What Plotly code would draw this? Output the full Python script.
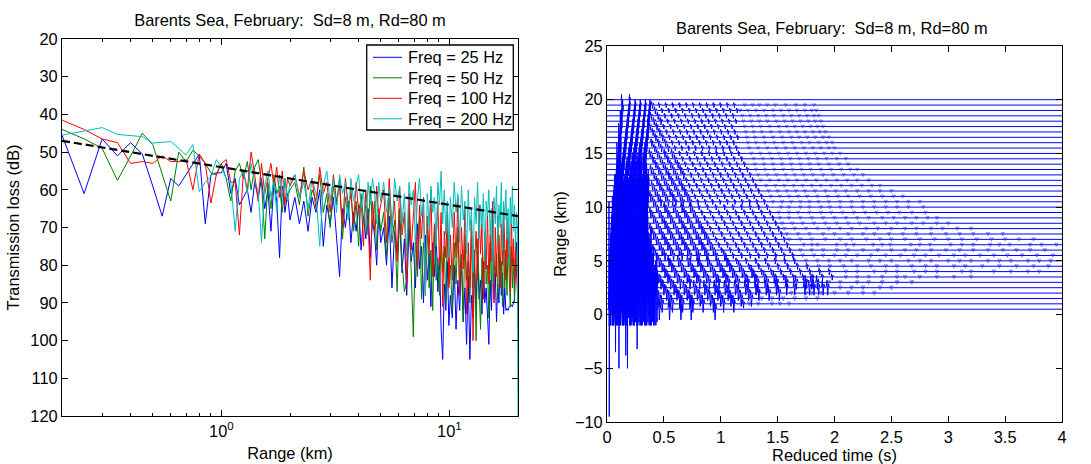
import plotly.graph_objects as go

# ---------------- Left panel data (transmission loss vs range) ----------------
range_km = [
    0.2, 0.25, 0.3, 0.35, 0.4, 0.45, 0.5, 0.55, 0.6, 0.65, 0.7, 0.75, 0.8, 0.85, 0.9, 0.95,
    1.0, 1.05, 1.1, 1.15, 1.2, 1.25, 1.3, 1.35, 1.4, 1.45, 1.5, 1.55, 1.6, 1.65, 1.7, 1.75,
    1.8, 1.85, 1.9, 1.95, 2.0,
    2.1, 2.2, 2.3, 2.4, 2.5, 2.6, 2.7, 2.8, 2.9, 3.0, 3.1, 3.2, 3.3, 3.4, 3.5, 3.6, 3.7, 3.8,
    3.9, 4.0, 4.1, 4.2, 4.3, 4.4, 4.5, 4.6, 4.7, 4.8, 4.9, 5.0,
    5.15, 5.3, 5.45, 5.6, 5.75, 5.9, 6.05, 6.2, 6.35, 6.5, 6.65, 6.8, 6.95, 7.1, 7.25, 7.4,
    7.55, 7.7, 7.85, 8.0, 8.15, 8.3, 8.45, 8.6, 8.75, 8.9, 9.05, 9.2, 9.35, 9.5, 9.65, 9.8, 9.95,
    10.1, 10.3, 10.5, 10.7, 10.9, 11.1, 11.3, 11.5, 11.7, 11.9, 12.1, 12.3, 12.5, 12.7, 12.9,
    13.1, 13.3, 13.5, 13.7, 13.9, 14.1, 14.3, 14.5, 14.7, 14.9, 15.1, 15.3, 15.5, 15.7, 15.9,
    16.1, 16.3, 16.5, 16.7, 16.9, 17.1, 17.3, 17.5, 17.7, 17.9, 18.1, 18.3, 18.5, 18.7, 18.9,
    19.1, 19.3, 19.5, 19.7, 19.9, 20.0,
]

tl_25hz = [
    45.5, 61, 46.5, 51, 47.5, 50.5, 59, 67, 57, 59, 56, 53, 50.5, 69, 56, 55.5, 55.5, 53, 61, 57,
    64, 62, 60, 66, 58, 62, 57, 65, 60, 71, 58, 63, 78, 59, 66, 61, 68,
    62, 69, 63, 71, 62, 66, 60, 75, 64, 69, 62, 72, 83, 65, 70, 63, 74, 66, 71, 64,
    76, 67, 73, 65, 78, 68, 72, 80, 66, 74,
    70, 80, 67, 86, 71, 77, 68, 82, 73, 88, 70, 79, 74, 86, 69, 81, 75, 90, 72, 84,
    77, 91, 74, 83, 71, 87, 78, 97, 105, 85, 92, 79, 96,
    88, 94, 80, 97, 84, 92, 78, 95, 86, 101, 83, 105, 88, 94, 80, 91, 76, 89, 84, 93,
    79, 90, 86, 96, 101, 84, 92, 77, 89, 82, 95, 85, 90, 78, 88, 82, 93, 86, 92, 91.5,
    92, 91, 91, 90.5, 91, 90, 89, 80, 74, 78, 82,
]

tl_50hz = [
    44, 46.5, 49, 57.5, 51, 45, 48, 56, 63, 50, 52.5, 49.5, 51, 53, 55.5, 56, 53, 57, 63, 55,
    53, 57, 52.5, 60, 54, 52, 58, 73, 58, 65, 56, 61, 59, 66, 57, 62, 60,
    58, 64, 54, 67, 60, 63, 56, 66, 61, 70, 59, 64, 57, 73, 62, 67, 60, 71, 63, 75,
    61, 68, 64, 72, 59, 70, 63, 76, 65, 71,
    66, 78, 62, 74, 68, 87, 65, 79, 87, 84, 64, 80, 99, 72, 83, 67, 89, 74, 80, 69,
    86, 76, 92, 70, 84, 78, 88, 73, 82, 75, 90, 71, 85,
    80, 92, 74, 85, 70, 88, 77, 95, 72, 84, 79, 90, 69, 86, 76, 100, 73, 83, 97, 78,
    88, 71, 85, 80, 94, 74, 87, 68, 85, 82, 77, 89, 72, 84, 79, 91, 70, 86, 76, 88,
    73, 83, 91, 75, 86, 78, 90, 72, 83, 77, 80,
]

tl_100hz = [
    41.5, 44, 46.5, 47.5, 53, 52.5, 53, 51, 52.5, 52.5, 52, 60, 50.5, 53, 63.5, 56, 53, 52, 58, 58,
    72, 55, 60, 50, 56, 63, 53, 61, 57, 53, 59, 54, 62, 55, 64, 57, 59,
    56, 62, 55, 60, 57, 65, 54, 61, 58, 66, 56, 63, 59, 70, 57, 64, 61, 69, 58, 66,
    62, 75, 60, 68, 84, 63, 71, 59, 67, 64,
    60, 74, 57, 70, 63, 79, 59, 72, 66, 85, 61, 76, 68, 58, 81, 64, 73, 62, 88, 67,
    77, 60, 83, 69, 74, 63, 80, 66, 91, 71, 78, 64, 86,
    72, 84, 66, 78, 62, 88, 70, 81, 65, 93, 74, 86, 68, 100, 79, 71, 84, 64, 77, 69,
    89, 73, 81, 66, 85, 72, 79, 63, 90, 70, 83, 67, 76, 86, 69, 80, 65, 74, 84, 68,
    78, 71, 87, 66, 80, 73, 85, 76, 82, 88, 97,
]

tl_200hz = [
    45.5, 44.5, 43.5, 45.3, 45.6, 45.9, 47.6, 47.4, 47.2, 49, 50.8, 48, 60.5, 58, 56.5, 52, 54, 57, 58, 71,
    57, 55, 61, 53, 58, 60, 74, 59, 55, 62, 58, 66, 56, 61, 57, 63, 58,
    56, 62, 58, 65, 57, 61, 75, 59, 55, 63, 57, 66, 56, 61, 58, 68, 57, 63, 59, 56,
    65, 60, 71, 58, 64, 57, 61, 69, 58, 63,
    58, 66, 60, 72, 57, 63, 59, 69, 61, 78, 58, 64, 60, 74, 62, 57, 67, 63, 88, 61,
    70, 59, 66, 62, 75, 58, 64, 55, 69, 60, 72, 63, 78,
    62, 70, 58, 66, 61, 74, 59, 68, 63, 77, 60, 71, 65, 82, 62, 69, 58, 73, 64, 70,
    61, 79, 63, 67, 60, 72, 65, 85, 62, 69, 59, 74, 64, 70, 58, 76, 63, 68, 60, 73,
    65, 80, 62, 69, 59, 71, 64, 75, 66, 70, 125,
]

# reference (dashed) trend line end points
trend_range = [0.2, 20.0]
trend_tl = [47.0, 67.0]

series_names = ["Freq = 25 Hz", "Freq = 50 Hz", "Freq = 100 Hz", "Freq = 200 Hz"]
series_colors = ["#0000ff", "#008000", "#ff0000", "#00bfbf"]

# ---------------- Right panel data (stacked time series) ----------------
trace_range = [0.5, 1.0, 1.5, 2.0, 2.5, 3.0, 3.5, 4.0, 4.5, 5.0, 5.5, 6.0, 6.5, 7.0, 7.5, 8.0,
               8.5, 9.0, 9.5, 10.0, 10.5, 11.0, 11.5, 12.0, 12.5, 13.0, 13.5, 14.0, 14.5, 15.0,
               15.5, 16.0, 16.5, 17.0, 17.5, 18.0, 18.5, 19.0, 19.5, 20.0]

# early, strong arrivals
spike_t = [
    [0.02, 0.045, 0.075, 0.105, 0.135, 0.165, 0.18, 0.21, 0.24, 0.265, 0.3, 0.34, 0.38],
    [0.025, 0.05, 0.08, 0.11, 0.14, 0.17, 0.2, 0.23, 0.26, 0.29, 0.33, 0.37, 0.41],
    [0.025, 0.055, 0.085, 0.115, 0.145, 0.175, 0.205, 0.235, 0.27, 0.3, 0.34, 0.38, 0.42],
    [0.03, 0.06, 0.09, 0.12, 0.15, 0.18, 0.21, 0.24, 0.27, 0.31, 0.35, 0.39, 0.43],
    [0.03, 0.06, 0.09, 0.12, 0.15, 0.18, 0.22, 0.25, 0.28, 0.32, 0.36, 0.4, 0.44],
    [0.03, 0.06, 0.09, 0.12, 0.16, 0.19, 0.22, 0.26, 0.29, 0.33, 0.37, 0.41],
    [0.035, 0.065, 0.095, 0.13, 0.16, 0.19, 0.23, 0.26, 0.3, 0.34, 0.38],
    [0.035, 0.065, 0.1, 0.13, 0.165, 0.2, 0.23, 0.27, 0.3, 0.34, 0.38],
    [0.04, 0.07, 0.1, 0.135, 0.17, 0.2, 0.24, 0.27, 0.31, 0.35, 0.39],
    [0.04, 0.07, 0.105, 0.14, 0.17, 0.21, 0.24, 0.28, 0.31, 0.35],
    [0.045, 0.075, 0.11, 0.14, 0.18, 0.21, 0.25, 0.28, 0.32, 0.36],
    [0.045, 0.08, 0.11, 0.145, 0.18, 0.22, 0.25, 0.29, 0.32, 0.36],
    [0.05, 0.08, 0.115, 0.15, 0.185, 0.22, 0.26, 0.29, 0.33],
    [0.05, 0.085, 0.12, 0.155, 0.19, 0.225, 0.26, 0.3, 0.34],
    [0.055, 0.09, 0.125, 0.16, 0.195, 0.23, 0.27, 0.31, 0.35],
    [0.055, 0.09, 0.13, 0.165, 0.2, 0.24, 0.28, 0.32],
    [0.06, 0.095, 0.13, 0.17, 0.21, 0.25, 0.29, 0.33],
    [0.06, 0.1, 0.135, 0.175, 0.215, 0.255, 0.295, 0.335],
    [0.065, 0.1, 0.14, 0.18, 0.22, 0.26, 0.3, 0.34],
    [0.07, 0.105, 0.145, 0.185, 0.225, 0.265, 0.305, 0.345],
    [0.07, 0.11, 0.15, 0.19, 0.23, 0.27, 0.31, 0.35],
    [0.075, 0.115, 0.155, 0.195, 0.235, 0.275, 0.315, 0.355],
    [0.08, 0.12, 0.16, 0.2, 0.24, 0.28, 0.32, 0.36],
    [0.085, 0.125, 0.165, 0.205, 0.245, 0.285, 0.325, 0.365],
    [0.09, 0.13, 0.17, 0.21, 0.25, 0.29, 0.33],
    [0.095, 0.135, 0.175, 0.215, 0.255, 0.295, 0.335],
    [0.1, 0.14, 0.18, 0.225, 0.265, 0.305, 0.345],
    [0.1, 0.145, 0.19, 0.23, 0.275, 0.32],
    [0.105, 0.15, 0.195, 0.24, 0.285, 0.33],
    [0.11, 0.155, 0.2, 0.245, 0.29, 0.335],
    [0.11, 0.16, 0.21, 0.255, 0.3, 0.345],
    [0.115, 0.165, 0.215, 0.26, 0.305, 0.35],
    [0.12, 0.17, 0.22, 0.265, 0.31, 0.355],
    [0.12, 0.175, 0.225, 0.27, 0.315, 0.36],
    [0.125, 0.18, 0.23, 0.275, 0.32, 0.36],
    [0.13, 0.185, 0.235, 0.28, 0.325, 0.365],
    [0.13, 0.19, 0.24, 0.285, 0.33, 0.37],
    [0.135, 0.195, 0.245, 0.29, 0.335, 0.375],
    [0.14, 0.2, 0.25, 0.295, 0.34, 0.38],
    [0.13, 0.2],
]
spike_amp = [1.5, 2.0, 2.5, 3.0, 3.2, 3.3, 3.4, 3.5, 3.5, 3.5,
             3.4, 3.3, 3.2, 3.0, 2.9, 2.8, 2.7, 2.6, 2.5, 2.4,
             2.0, 1.8, 1.6, 1.5, 1.4, 1.3, 1.2, 1.1, 1.0, 0.95,
             0.9, 0.85, 0.8, 0.75, 0.7, 0.65, 0.6, 0.55, 0.5, 0.5]

# later multipath arrivals (they line up along slanting branches)
blob_t = [
    [0.46, 0.55, 0.65, 0.74, 0.95],
    [0.485, 0.575, 0.665, 0.755, 0.845, 0.935, 1.025, 1.115, 1.2],
    [0.46, 0.55, 0.64, 0.73, 0.82, 0.91, 1.0, 1.09, 1.18, 1.27],
    [0.525, 0.615, 0.705, 0.795, 0.885, 0.975, 1.065, 1.155, 1.245, 1.335, 1.425, 1.515],
    [0.5, 0.59, 0.68, 0.77, 0.86, 0.95, 1.04, 1.13, 1.22, 1.31, 1.4, 1.49, 1.58, 1.65, 1.74, 1.78, 1.82, 1.86, 1.9, 1.94],
    [0.475, 0.56, 0.645, 0.73, 0.815, 0.9, 0.985, 1.07, 1.155, 1.24, 1.325, 1.41, 1.495, 1.58, 1.665, 1.75, 1.8, 1.85],
    [0.45, 0.535, 0.62, 0.705, 0.79, 0.875, 0.96, 1.045, 1.13, 1.215, 1.3, 1.385, 1.47, 1.555, 1.64, 1.725, 1.81, 1.895, 1.98],
    [0.425, 0.51, 0.595, 0.68, 0.765, 0.85, 0.935, 1.02, 1.105, 1.19, 1.275, 1.36, 1.445, 1.53, 1.615, 1.7, 1.785, 1.87, 1.955],
    [0.485, 0.57, 0.655, 0.74, 0.825, 0.91, 0.995, 1.08, 1.165, 1.25, 1.335, 1.42, 1.505, 1.59, 1.675, 1.76],
    [0.46, 0.545, 0.63, 0.715, 0.8, 0.885, 0.97, 1.055, 1.14, 1.225, 1.31, 1.395, 1.48, 1.565, 1.65],
    [0.435, 0.51, 0.585, 0.66, 0.735, 0.81, 0.885, 0.96, 1.035, 1.11, 1.185, 1.26, 1.335, 1.41, 1.485, 1.56, 1.635],
    [0.41, 0.485, 0.56, 0.635, 0.71, 0.785, 0.86, 0.935, 1.01, 1.085, 1.16, 1.235, 1.31, 1.385, 1.46, 1.535, 1.61],
    [0.46, 0.535, 0.61, 0.685, 0.76, 0.835, 0.91, 0.985, 1.06, 1.135, 1.21, 1.285, 1.36, 1.435, 1.51, 1.585],
    [0.435, 0.51, 0.585, 0.66, 0.735, 0.81, 0.885, 0.96, 1.035, 1.11, 1.185, 1.26, 1.335, 1.41, 1.485, 1.56],
    [0.41, 0.485, 0.56, 0.635, 0.71, 0.785, 0.86, 0.935, 1.01, 1.085, 1.16, 1.235, 1.31, 1.385, 1.46, 1.535],
    [0.385, 0.46, 0.535, 0.61, 0.685, 0.76, 0.835, 0.91, 0.985, 1.06, 1.135, 1.21, 1.285, 1.36, 1.435, 1.51],
    [0.435, 0.51, 0.585, 0.66, 0.735, 0.81, 0.885, 0.96, 1.035, 1.11, 1.185, 1.26, 1.335, 1.41, 1.485],
    [0.41, 0.485, 0.56, 0.635, 0.71, 0.785, 0.86, 0.935, 1.01, 1.085, 1.16, 1.235, 1.31, 1.385, 1.46],
    [0.385, 0.46, 0.535, 0.61, 0.685, 0.76, 0.835, 0.91, 0.985, 1.06, 1.135, 1.21, 1.285, 1.36, 1.435],
    [0.435, 0.51, 0.585, 0.66, 0.735, 0.81, 0.885, 0.96, 1.035, 1.11, 1.185, 1.26, 1.335, 1.41],
    [0.41, 0.475, 0.54, 0.605, 0.67, 0.735, 0.8, 0.865, 0.93, 0.995, 1.06, 1.125, 1.19, 1.255, 1.32, 1.385],
    [0.385, 0.45, 0.515, 0.58, 0.645, 0.71, 0.775, 0.84, 0.905, 0.97, 1.035, 1.1, 1.165, 1.23, 1.295, 1.36],
    [0.425, 0.49, 0.555, 0.62, 0.685, 0.75, 0.815, 0.88, 0.945, 1.01, 1.075, 1.14, 1.205, 1.27, 1.335],
    [0.4, 0.465, 0.53, 0.595, 0.66, 0.725, 0.79, 0.855, 0.92, 0.985, 1.05, 1.115, 1.18, 1.245, 1.31],
    [0.44, 0.505, 0.57, 0.635, 0.7, 0.765, 0.83, 0.895, 0.96, 1.025, 1.09, 1.155, 1.22, 1.285],
    [0.415, 0.48, 0.545, 0.61, 0.675, 0.74, 0.805, 0.87, 0.935, 1.0, 1.065, 1.13, 1.195, 1.26],
    [0.39, 0.455, 0.52, 0.585, 0.65, 0.715, 0.78, 0.845, 0.91, 0.975, 1.04, 1.105, 1.17, 1.235],
    [0.43, 0.495, 0.56, 0.625, 0.69, 0.755, 0.82, 0.885, 0.95, 1.015, 1.08, 1.145, 1.21],
    [0.405, 0.47, 0.535, 0.6, 0.665, 0.73, 0.795, 0.86, 0.925, 0.99, 1.055, 1.12, 1.185],
    [0.38, 0.445, 0.51, 0.575, 0.64, 0.705, 0.77, 0.835, 0.9, 0.965, 1.03, 1.095, 1.16],
    [0.42, 0.48, 0.54, 0.6, 0.66, 0.72, 0.78, 0.84, 0.9, 0.96, 1.02, 1.08, 1.14],
    [0.395, 0.455, 0.515, 0.575, 0.635, 0.695, 0.755, 0.815, 0.875, 0.935, 0.995, 1.055, 1.115],
    [0.43, 0.49, 0.55, 0.61, 0.67, 0.73, 0.79, 0.85, 0.91, 0.97, 1.03, 1.09, 1.15],
    [0.405, 0.465, 0.525, 0.585, 0.645, 0.705, 0.765, 0.825, 0.885, 0.945, 1.005, 1.065, 1.125],
    [0.38, 0.44, 0.5, 0.56, 0.62, 0.68, 0.74, 0.8, 0.86, 0.92, 0.98, 1.04, 1.1],
    [0.415, 0.475, 0.535, 0.595, 0.655, 0.715, 0.775, 0.835, 0.895, 0.955, 1.015, 1.075, 1.135],
    [0.39, 0.45, 0.51, 0.57, 0.63, 0.69, 0.75, 0.81, 0.87, 0.93, 0.99, 1.05, 1.11],
    [0.425, 0.485, 0.545, 0.605, 0.665, 0.725, 0.785, 0.845, 0.905, 0.965, 1.025, 1.085, 1.145],
    [0.4, 0.46, 0.52, 0.58, 0.64, 0.7, 0.76, 0.82, 0.88, 0.94, 1.0, 1.06, 1.12],
    [],
]
# arrivals earlier than fan_edge (s) on each trace are the strong fan blobs
fan_edge = [1.0, 1.2, 1.3, 1.55, 1.95, 1.9, 1.5, 1.3, 1.2, 1.1,
            1.05, 1.0, 0.97, 0.95, 0.92, 0.9, 0.87, 0.85, 0.82, 0.8,
            0.78, 0.76, 0.74, 0.72, 0.7, 0.68, 0.66, 0.64, 0.62, 0.6,
            0.58, 0.56, 0.54, 0.52, 0.5, 0.48, 0.47, 0.46, 0.45, 0.0]
fan_amp = [1.0, 0.8, 0.75, 0.7, 0.7, 0.65, 0.6, 0.6, 0.55, 0.55,
           0.5, 0.5, 0.5, 0.5, 0.45, 0.45, 0.45, 0.45, 0.45, 0.45,
           0.42, 0.42, 0.42, 0.4, 0.4, 0.4, 0.4, 0.38, 0.38, 0.38,
           0.36, 0.36, 0.36, 0.35, 0.35, 0.35, 0.34, 0.34, 0.33, 0.0]
blob_amp = [0.5, 0.4, 0.35, 0.35, 0.35, 0.32, 0.3, 0.3, 0.3, 0.28,
            0.28, 0.27, 0.27, 0.27, 0.26, 0.26, 0.26, 0.26, 0.26, 0.26,
            0.25, 0.25, 0.25, 0.25, 0.25, 0.25, 0.25, 0.24, 0.24, 0.24,
            0.24, 0.24, 0.24, 0.23, 0.23, 0.23, 0.23, 0.23, 0.23, 0.0]

# weak late arrivals
faint_t = [
    [],
    [1.25, 1.33, 1.45, 1.52, 1.6],
    [1.36, 1.45, 1.55, 1.65, 1.75, 1.85],
    [1.62, 1.75, 1.8, 1.88, 2.0, 2.12, 2.25, 2.35],
    [2.05, 2.15, 2.25, 2.4, 2.5],
    [1.95, 2.05, 2.2, 2.3, 2.42, 2.55, 2.68],
    [2.1, 2.2, 2.3, 2.42, 2.55, 2.62, 2.75, 2.9, 3.05, 3.2],
    [2.1, 2.2, 2.35, 2.45, 2.55, 2.7, 2.8, 2.9, 3.12, 3.2, 3.4, 3.55, 3.7, 3.8],
    [1.86, 1.96, 2.08, 2.2, 2.32, 2.45, 2.55, 2.68, 2.8, 2.9, 3.05, 3.15, 3.3, 3.45, 3.6, 3.75, 3.88],
    [1.75, 1.85, 1.95, 2.05, 2.15, 2.3, 2.4, 2.5, 2.65, 2.75, 2.85, 3.0, 3.1, 3.2, 3.35, 3.45, 3.55, 3.7, 3.8, 3.9],
    [1.72, 1.82, 1.9, 2.0, 2.1, 2.2, 2.32, 2.45, 2.58, 2.7, 2.8, 2.92, 3.05, 3.15, 3.28, 3.4, 3.52, 3.65, 3.78, 3.92],
    [1.7, 1.8, 1.9, 2.02, 2.12, 2.25, 2.38, 2.5, 2.62, 2.72, 2.85, 2.98, 3.1, 3.22, 3.35, 3.48, 3.6, 3.72, 3.85],
    [1.73, 1.8, 1.85, 2.02, 2.1, 2.17, 2.34, 2.42, 2.49, 2.67, 2.75, 2.84, 3.02, 3.12, 3.22, 3.37, 3.45, 3.54, 3.72, 3.82, 3.95],
    [1.6, 1.7, 1.8, 1.92, 2.05, 2.15, 2.28, 2.4, 2.5, 2.62, 2.75, 2.88, 3.0, 3.12, 3.25, 3.38, 3.5, 3.62, 3.75],
    [1.58, 1.68, 1.78, 1.9, 2.0, 2.12, 2.25, 2.35, 2.48, 2.6, 2.72, 2.85, 2.98, 3.1, 3.22, 3.35, 3.48],
    [1.56, 1.65, 1.75, 1.85, 1.95, 2.05, 2.15, 2.28, 2.38, 2.5, 2.62, 2.72, 2.85, 2.95, 3.08, 3.2],
    [1.54, 1.63, 1.72, 1.82, 1.92, 2.02, 2.12, 2.22, 2.35, 2.45, 2.55, 2.68, 2.78, 2.9, 3.0],
    [1.52, 1.6, 1.7, 1.8, 1.9, 2.0, 2.1, 2.2, 2.3, 2.42, 2.52, 2.62, 2.72, 2.82, 2.9],
    [1.51, 1.6, 1.68, 1.78, 1.88, 1.97, 2.07, 2.17, 2.27, 2.37, 2.47, 2.57, 2.68, 2.8],
    [1.53, 1.6, 1.7, 1.78, 1.88, 1.96, 2.05, 2.15, 2.25, 2.35, 2.45, 2.55, 2.65, 2.78],
    [1.46, 1.54, 1.62, 1.7, 1.78, 1.86, 1.95, 2.05, 2.15, 2.25, 2.35, 2.45, 2.55, 2.65, 2.75],
    [1.44, 1.52, 1.6, 1.68, 1.76, 1.85, 1.94, 2.03, 2.12, 2.22, 2.32, 2.42, 2.52, 2.6],
    [1.42, 1.5, 1.58, 1.66, 1.74, 1.83, 1.92, 2.01, 2.1, 2.2, 2.3, 2.4, 2.5],
    [1.4, 1.48, 1.56, 1.64, 1.72, 1.8, 1.88, 1.97, 2.06, 2.15, 2.24, 2.33, 2.4],
    [1.35, 1.43, 1.51, 1.59, 1.67, 1.75, 1.84, 1.93, 2.02, 2.11, 2.2, 2.3],
    [1.33, 1.41, 1.49, 1.57, 1.65, 1.73, 1.81, 1.9, 1.99, 2.08, 2.17, 2.25],
    [1.31, 1.39, 1.47, 1.55, 1.63, 1.71, 1.79, 1.88, 1.97, 2.06, 2.14, 2.2],
    [1.3, 1.38, 1.46, 1.54, 1.62, 1.7, 1.78, 1.86, 1.95, 2.04, 2.12],
    [1.29, 1.37, 1.45, 1.53, 1.61, 1.69, 1.77, 1.85, 1.93, 2.02, 2.1],
    [1.27, 1.35, 1.43, 1.51, 1.59, 1.67, 1.75, 1.83, 1.91, 1.98, 2.05],
    [1.25, 1.33, 1.41, 1.49, 1.57, 1.65, 1.73, 1.81, 1.88, 1.95, 2.0],
    [1.24, 1.31, 1.39, 1.47, 1.55, 1.63, 1.71, 1.78, 1.86, 1.93, 1.98],
    [1.23, 1.3, 1.38, 1.46, 1.54, 1.62, 1.69, 1.76, 1.83, 1.9, 1.95],
    [1.22, 1.29, 1.36, 1.44, 1.52, 1.6, 1.67, 1.74, 1.81, 1.87, 1.92],
    [1.21, 1.28, 1.35, 1.43, 1.51, 1.58, 1.65, 1.72, 1.79, 1.85, 1.9],
    [1.2, 1.27, 1.34, 1.41, 1.49, 1.56, 1.63, 1.7, 1.77, 1.83, 1.88],
    [1.19, 1.26, 1.33, 1.4, 1.47, 1.55, 1.62, 1.69, 1.76, 1.82, 1.86],
    [1.17, 1.24, 1.31, 1.38, 1.46, 1.53, 1.6, 1.67, 1.74, 1.8, 1.84],
    [1.21, 1.28, 1.34, 1.41, 1.48, 1.57, 1.66, 1.74, 1.82],
    [],
]
faint_amp = [0.0, 0.2, 0.2, 0.2, 0.2, 0.2, 0.18, 0.18, 0.18, 0.18,
             0.18, 0.17, 0.17, 0.17, 0.17, 0.17, 0.16, 0.16, 0.16, 0.16,
             0.16, 0.16, 0.16, 0.15, 0.15, 0.15, 0.15, 0.15, 0.15, 0.15,
             0.15, 0.15, 0.15, 0.15, 0.15, 0.15, 0.15, 0.15, 0.15, 0.0]

# individual large arrivals: trace range, time, half-amplitude
big_range = [0.5, 0.5, 0.5, 0.5, 0.5, 0.5, 5.0, 5.5, 7.0, 9.0, 12.0, 14.0, 16.0]
big_time = [0.02, 0.075, 0.105, 0.165, 0.18, 0.265, 0.05, 0.09, 0.06, 0.07, 0.09, 0.105, 0.12]
big_amp = [10.0, 4.0, 5.5, 4.3, 5.5, 3.7, 6.0, 5.8, 4.5, 4.0, 4.0, 3.8, 3.0]

# ---------------- Figure ----------------
FONT = "Liberation Sans, Arial, Helvetica, sans-serif"
FS = 16.4
W, H = 1091, 464
TITLE = "Barents Sea, February:  Sd=8 m, Rd=80 m"

fig = go.Figure()

for name, vals, col in zip(series_names, [tl_25hz, tl_50hz, tl_100hz, tl_200hz], series_colors):
    fig.add_trace(go.Scatter(x=range_km, y=vals, mode="lines", name=name, showlegend=False,
                             line=dict(color=col, width=1), xaxis="x", yaxis="y"))
fig.add_trace(go.Scatter(x=trend_range, y=trend_tl, mode="lines", showlegend=False,
                         line=dict(color="black", width=2.2, dash="8px,4px"),
                         xaxis="x", yaxis="y"))

# stacked waveforms: each trace is a baseline at its range with wiggles at arrivals
W_SPIKE, W_FAN, W_BLOB, W_FAINT = 0.005, 0.014, 0.011, 0.016
xs, ys = [], []
fx, fy = [], []
for i, r in enumerate(trace_range):
    pulses = [(t, spike_amp[i], W_SPIKE) for t in spike_t[i]]
    for t in blob_t[i]:
        if t < fan_edge[i]:
            pulses.append((t, fan_amp[i], W_FAN))
        else:
            pulses.append((t, blob_amp[i], W_BLOB))
    pulses += [(t, a, W_SPIKE) for rr, t, a in zip(big_range, big_time, big_amp) if rr == r]
    pulses.sort()
    xs.append(0.0); ys.append(r)
    for t, a, w in pulses:
        xs += [t - w, t - w / 2, t, t + w / 2, t + w]
        ys += [r, r + a, r - a, r + a / 2, r]
    xs.append(4.0); ys.append(r)
    xs.append(None); ys.append(None)
    for t in faint_t[i]:
        a = faint_amp[i]
        fx += [t - W_FAINT, t - W_FAINT / 2, t, t + W_FAINT / 2, t + W_FAINT, None]
        fy += [r, r + a, r - a, r + a, r, None]

fig.add_trace(go.Scatter(x=xs, y=ys, mode="lines", showlegend=False, hoverinfo="skip",
                         line=dict(color="#0000ff", width=1), xaxis="x2", yaxis="y2"))
fig.add_trace(go.Scatter(x=fx, y=fy, mode="lines", showlegend=False, hoverinfo="skip",
                         line=dict(color="rgba(40,40,255,0.55)", width=1.2),
                         xaxis="x2", yaxis="y2"))

axis_common = dict(showline=True, linecolor="black", linewidth=1, mirror="ticks",
                   ticks="inside", tickcolor="black", tickwidth=1, ticklen=6,
                   showgrid=False, zeroline=False, automargin=False,
                   tickfont=dict(family=FONT, size=FS, color="black"))
title_font = dict(family=FONT, size=FS, color="black")

left_dom = [62 / W, 518 / W]
right_dom = [607 / W, 1062 / W]
left_ydom = [1 - 416 / H, 1 - 39 / H]
right_ydom = [1 - 422 / H, 1 - 46 / H]

minor_vals = [0.3, 0.4, 0.5, 0.6, 0.7, 0.8, 0.9, 2, 3, 4, 5, 6, 7, 8, 9, 20]

fig.update_layout(
    width=W, height=H, autosize=False,
    margin=dict(l=0, r=0, t=0, b=0),
    paper_bgcolor="white", plot_bgcolor="white",
    font=dict(family=FONT, size=FS, color="black"),
    showlegend=False,
    title=dict(text=TITLE, font=title_font, x=290 / W, y=1 - 20.5 / H,
               xref="paper", yref="paper", xanchor="center", yanchor="middle"),
    xaxis=dict(axis_common, type="log", range=[-0.69897, 1.30103], domain=left_dom,
               anchor="y", tickmode="array", tickvals=[1, 10],
               ticktext=["10<sup>0</sup>", "10<sup>1</sup>"],
               title=dict(text="Range (km)", font=title_font, standoff=8),
               minor=dict(tickmode="array", tickvals=minor_vals, ticks="inside",
                          ticklen=3, tickcolor="black", tickwidth=1, showgrid=False)),
    yaxis=dict(axis_common, range=[120, 20], domain=left_ydom, anchor="x",
               tickmode="linear", tick0=20, dtick=10,
               title=dict(text="Transmission loss (dB)", font=title_font, standoff=6)),
    xaxis2=dict(axis_common, range=[0, 4], domain=right_dom, anchor="y2",
                tickmode="linear", tick0=0, dtick=0.5,
                title=dict(text="Reduced time (s)", font=title_font, standoff=0)),
    yaxis2=dict(axis_common, range=[-10, 25], domain=right_ydom, anchor="x2",
                tickmode="linear", tick0=-10, dtick=5,
                title=dict(text="Range (km)", font=title_font, standoff=4)),
)

# legend box (drawn in paper coordinates)
leg_x0, leg_x1, leg_top, leg_bot = 366.7, 513.3, 45.0, 130.0
fig.add_shape(type="rect", xref="paper", yref="paper", layer="above",
              x0=leg_x0 / W, x1=leg_x1 / W, y0=1 - leg_bot / H, y1=1 - leg_top / H,
              line=dict(color="black", width=1.3), fillcolor="white")
leg_rows = [57.3, 77.8, 98.3, 118.8]
for name, col, yy in zip(series_names, series_colors, leg_rows):
    fig.add_shape(type="line", xref="paper", yref="paper", layer="above",
                  x0=373 / W, x1=402 / W, y0=1 - yy / H, y1=1 - yy / H,
                  line=dict(color=col, width=1))
    fig.add_annotation(xref="paper", yref="paper", showarrow=False, x=406 / W, y=1 - yy / H,
                       text=name, xanchor="left", yanchor="middle",
                       font=dict(family=FONT, size=FS, color="black"))

fig.add_annotation(xref="paper", yref="paper", showarrow=False,
                   font=dict(family=FONT, size=FS, color="black"),
                   x=832 / W, y=1 - 27.7 / H, text=TITLE,
                   xanchor="center", yanchor="middle")

fig.write_html("out.html")
